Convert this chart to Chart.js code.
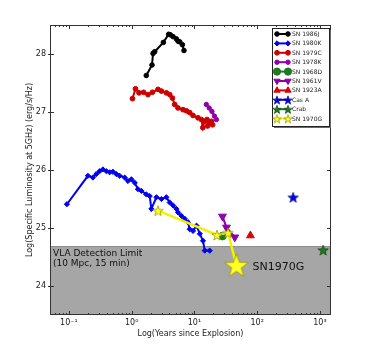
<!DOCTYPE html>
<html>
<head>
<meta charset="utf-8">
<script src="https://cdn.jsdelivr.net/npm/chart.js@4.4.0/dist/chart.umd.min.js"></script>
<style>
  body { margin: 0; background: #fff; }
</style>
</head>
<body>
<canvas id="chart" width="374" height="354"></canvas>
<script>
// values: t = years since explosion, L = log luminosity
const sn86J_t = [1.71, 2.11, 2.19, 2.33, 3.2, 3.89, 4.14, 4.56, 5.16, 5.5, 5.83, 6.44, 6.82];
const sn86J_L = [27.63, 27.81, 28.01, 28.04, 28.2, 28.34, 28.33, 28.30, 28.26, 28.22, 28.21, 28.16, 28.06];

const sn80K_t = [0.093, 0.201, 0.241, 0.273, 0.309, 0.348, 0.395, 0.446, 0.503, 0.570, 0.644, 0.774, 0.873, 0.99, 1.12, 1.26, 1.43, 1.71, 1.94, 2.06, 2.48, 2.98, 3.57, 4.04, 4.56, 5.16, 5.47, 6.2, 7.0, 7.9, 8.4, 9.5, 10.8, 12.2, 13.7, 14.6, 17.5];
const sn80K_L = [25.41, 25.90, 25.87, 25.93, 25.98, 26.01, 25.98, 25.96, 25.97, 25.93, 25.90, 25.87, 25.81, 25.84, 25.78, 25.67, 25.64, 25.58, 25.55, 25.33, 25.53, 25.50, 25.53, 25.44, 25.39, 25.33, 25.27, 25.21, 25.16, 25.10, 24.98, 24.95, 25.04, 24.90, 24.78, 24.61, 24.61];

const sn79C_t = [1.03, 1.15, 1.31, 1.55, 1.82, 2.14, 2.63, 2.98, 3.57, 4.04, 4.46, 4.85, 5.47, 6.58, 7.45, 8.41, 9.5, 11.4, 12.9, 13.6, 14.6, 15.9, 16.3, 17.5, 18.7, 19.5];
const sn79C_L = [27.23, 27.40, 27.33, 27.34, 27.30, 27.34, 27.39, 27.36, 27.33, 27.30, 27.24, 27.13, 27.07, 27.04, 27.02, 26.99, 26.94, 26.90, 26.87, 26.73, 26.84, 26.87, 26.76, 26.81, 26.84, 26.78];

const sn78K_t = [15.5, 17.2, 19.0, 20.8, 22.4];
const sn78K_L = [27.13, 27.07, 27.01, 26.93, 26.87];

const sn68D_t = [28];
const sn68D_L = [24.86];

const sn61V_t = [28, 32.4, 44];
const sn61V_L = [25.20, 25.01, 24.84];

const sn23A_t = [78];
const sn23A_L = [24.87];

const casA_t = [374];
const casA_L = [25.53];

const crab_t = [1125];
const crab_L = [24.62];

const sn70G_t = [2.63, 22.9, 34.3, 46.8];
const sn70G_L = [25.30, 24.88, 24.92, 24.35];

const vlaLimit = 24.68;
const xRange = [0.05, 1500];
const yRange = [23.5, 28.5];
const xTickVals = [0.1, 1, 10, 100, 1000];
const xTickLabels = ['10\u207B\u00B9', '10\u2070', '10\u00B9', '10\u00B2', '10\u00B3'];
const yTickVals = [24, 25, 26, 27, 28];

const pts = (t, L) => t.map((v, i) => ({x: v, y: L[i]}));

function starCanvas(r, fill, stroke) {
  const s = Math.ceil(2 * r + 3);
  const c = document.createElement('canvas');
  c.width = s; c.height = s;
  const g = c.getContext('2d');
  g.beginPath();
  for (let i = 0; i < 10; i++) {
    const a = -Math.PI / 2 + i * Math.PI / 5;
    const rr = i % 2 ? r * 0.4 : r;
    g.lineTo(s / 2 + rr * Math.cos(a), s / 2 + 0.6 + rr * Math.sin(a));
  }
  g.closePath();
  g.fillStyle = fill; g.fill();
  g.strokeStyle = stroke; g.lineWidth = 0.7; g.stroke();
  return c;
}

const yellowStar = starCanvas(5.5, '#ffff22', '#8a8a00');
const bigYellowStar = starCanvas(12.5, '#ffff22', '#8a8a00');
const blueStar = starCanvas(5.5, '#0000ee', '#000080');
const greenStar = starCanvas(5.5, '#1d7a1d', '#0b400b');
const legYellow = starCanvas(4.5, '#ffff22', '#8a8a00');
const legBlue = starCanvas(4.5, '#0000ee', '#000080');
const legGreen = starCanvas(4.5, '#1d7a1d', '#0b400b');

const lineSet = (label, data, color, style, r, extra) => Object.assign({
  label: label, data: data, showLine: true,
  borderColor: color, backgroundColor: color,
  borderWidth: 2, pointStyle: style, pointRadius: r,
  pointBorderColor: color, pointBackgroundColor: color, pointBorderWidth: 1
}, extra || {});

const datasets = [
  lineSet('SN 1986J', pts(sn86J_t, sn86J_L), '#000000', 'circle', 2.3),
  lineSet('SN 1980K', pts(sn80K_t, sn80K_L), '#0000ee', 'rectRot', 2.6),
  lineSet('SN 1979C', pts(sn79C_t, sn79C_L), '#cc0000', 'circle', 2.4),
  lineSet('SN 1978K', pts(sn78K_t, sn78K_L), '#8e00a8', 'circle', 2.2),
  lineSet('SN 1968D', pts(sn68D_t, sn68D_L), '#1d7a1d', 'circle', 3.8),
  lineSet('SN 1961V', pts(sn61V_t, sn61V_L), '#8e00a8', 'triangle', 4.5, {pointRotation: 180}),
  lineSet('SN 1923A', pts(sn23A_t, sn23A_L), '#dd0000', 'triangle', 4.5),
  lineSet('Cas A', pts(casA_t, casA_L), '#0000ee', blueStar, 5, {legendPoint: legBlue}),
  lineSet('Crab', pts(crab_t, crab_L), '#1d7a1d', greenStar, 5, {legendPoint: legGreen}),
  lineSet('SN 1970G', pts(sn70G_t, sn70G_L), '#f2f200', [yellowStar, yellowStar, yellowStar, bigYellowStar], 5,
          {legendPoint: legYellow, borderWidth: 2.5})
];
datasets.forEach((d, i) => { d.order = datasets.length - i; });

// grey area below detection limit
datasets.push({
  label: 'limit', data: [{x: xRange[0], y: vlaLimit}, {x: xRange[1], y: vlaLimit}],
  showLine: true, fill: 'start', backgroundColor: '#a6a6a6', borderColor: '#8c8c8c',
  borderWidth: 1, pointRadius: 0, order: 100, isBand: true
});

const decor = {
  id: 'decor',
  afterDatasetsDraw(chart) {
    const ctx = chart.ctx, ca = chart.chartArea;
    const xs = chart.scales.x, ys = chart.scales.y;
    ctx.save();
    // frame
    ctx.strokeStyle = '#333'; ctx.lineWidth = 1;
    ctx.strokeRect(ca.left + 0.5, ca.top + 0.5, ca.width - 1, ca.height - 1);
    // ticks (inward)
    ctx.beginPath();
    for (let e = -2; e <= 3; e++) {
      for (let m = 1; m <= 9; m++) {
        const v = m * Math.pow(10, e);
        if (v < xRange[0] || v > xRange[1]) continue;
        const px = Math.round(xs.getPixelForValue(v)) + 0.5;
        const len = m === 1 ? 4 : 2;
        ctx.moveTo(px, ca.bottom); ctx.lineTo(px, ca.bottom - len);
        ctx.moveTo(px, ca.top); ctx.lineTo(px, ca.top + len);
      }
    }
    yTickVals.forEach(v => {
      const py = Math.round(ys.getPixelForValue(v)) + 0.5;
      ctx.moveTo(ca.left - 2, py); ctx.lineTo(ca.left + 4, py);
      ctx.moveTo(ca.right, py); ctx.lineTo(ca.right - 4, py);
    });
    ctx.stroke();

    // texts
    ctx.fillStyle = '#111';
    ctx.font = '9px "DejaVu Sans"';
    ctx.textBaseline = 'alphabetic';
    const ly = ys.getPixelForValue(vlaLimit);
    ctx.fillText('VLA Detection Limit', ca.left + 3, ly + 9);
    ctx.fillText('(10 Mpc, 15 min)', ca.left + 3, ly + 19);
    const n = sn70G_t.length - 1;
    ctx.font = '11px "DejaVu Sans"';
    ctx.textBaseline = 'middle';
    ctx.fillText('SN1970G', xs.getPixelForValue(sn70G_t[n]) + 16, ys.getPixelForValue(sn70G_L[n]) + 1);

    // legend
    const bx = ca.right - 59, by = ca.top + 3, bw = 57, bh = 98;
    ctx.fillStyle = '#6a6a6a';
    ctx.fillRect(bx + 2, by + 2, bw, bh);
    ctx.fillStyle = '#fff';
    ctx.fillRect(bx, by, bw, bh);
    ctx.strokeStyle = '#222';
    ctx.strokeRect(bx + 0.5, by + 0.5, bw, bh);
    ctx.font = '6px "DejaVu Sans"';
    const items = chart.data.datasets.filter(d => !d.isBand);
    items.forEach((d, i) => {
      const y = by + 6 + i * 9.4;
      const x1 = bx + 5, x2 = bx + 16;
      ctx.strokeStyle = d.borderColor; ctx.lineWidth = 2;
      ctx.beginPath(); ctx.moveTo(x1, y); ctx.lineTo(x2, y); ctx.stroke();
      const opt = {
        pointStyle: d.legendPoint || d.pointStyle, radius: Math.min(d.pointRadius, 3.6),
        rotation: d.pointRotation || 0, borderWidth: 1
      };
      ctx.fillStyle = d.pointBackgroundColor; ctx.strokeStyle = d.pointBorderColor; ctx.lineWidth = 1;
      Chart.helpers.drawPoint(ctx, opt, x1, y);
      ctx.fillStyle = d.pointBackgroundColor; ctx.strokeStyle = d.pointBorderColor;
      Chart.helpers.drawPoint(ctx, opt, x2, y);
      ctx.fillStyle = '#222';
      ctx.fillText(d.label, bx + 20, y + 0.5);
    });
    ctx.restore();
  }
};

new Chart(document.getElementById('chart'), {
  type: 'scatter',
  data: {datasets: datasets},
  options: {
    responsive: false,
    animation: false,
    layout: {padding: {left: 25, right: 43, top: 25, bottom: 15}},
    plugins: {legend: {display: false}, tooltip: {enabled: false}},
    scales: {
      x: {
        type: 'logarithmic', min: xRange[0], max: xRange[1],
        afterBuildTicks: s => { s.ticks = xTickVals.map(v => ({value: v})); },
        afterFit: s => { s.height = 24; },
        grid: {display: false, drawTicks: false}, border: {display: false},
        ticks: {
          autoSkip: false, maxRotation: 0, padding: 3, color: '#222',
          font: {family: 'DejaVu Sans', size: 8},
          callback: (v) => xTickLabels[xTickVals.indexOf(v)]
        },
        title: {display: true, text: 'Log(Years since Explosion)', color: '#222',
                font: {family: 'DejaVu Sans', size: 8}, padding: {top: 0, bottom: 0}}
      },
      y: {
        min: yRange[0], max: yRange[1],
        afterBuildTicks: s => { s.ticks = yTickVals.map(v => ({value: v})); },
        afterFit: s => { s.width = 25; },
        grid: {display: false, drawTicks: false}, border: {display: false},
        ticks: {padding: 4, color: '#222', font: {family: 'DejaVu Sans', size: 8}},
        title: {display: true, text: 'Log(Specific Luminosity at 5GHz) (erg/s/Hz)', color: '#222',
                font: {family: 'DejaVu Sans', size: 8}, padding: {top: 0, bottom: 0}}
      }
    }
  },
  plugins: [decor]
});
</script>
</body>
</html>
